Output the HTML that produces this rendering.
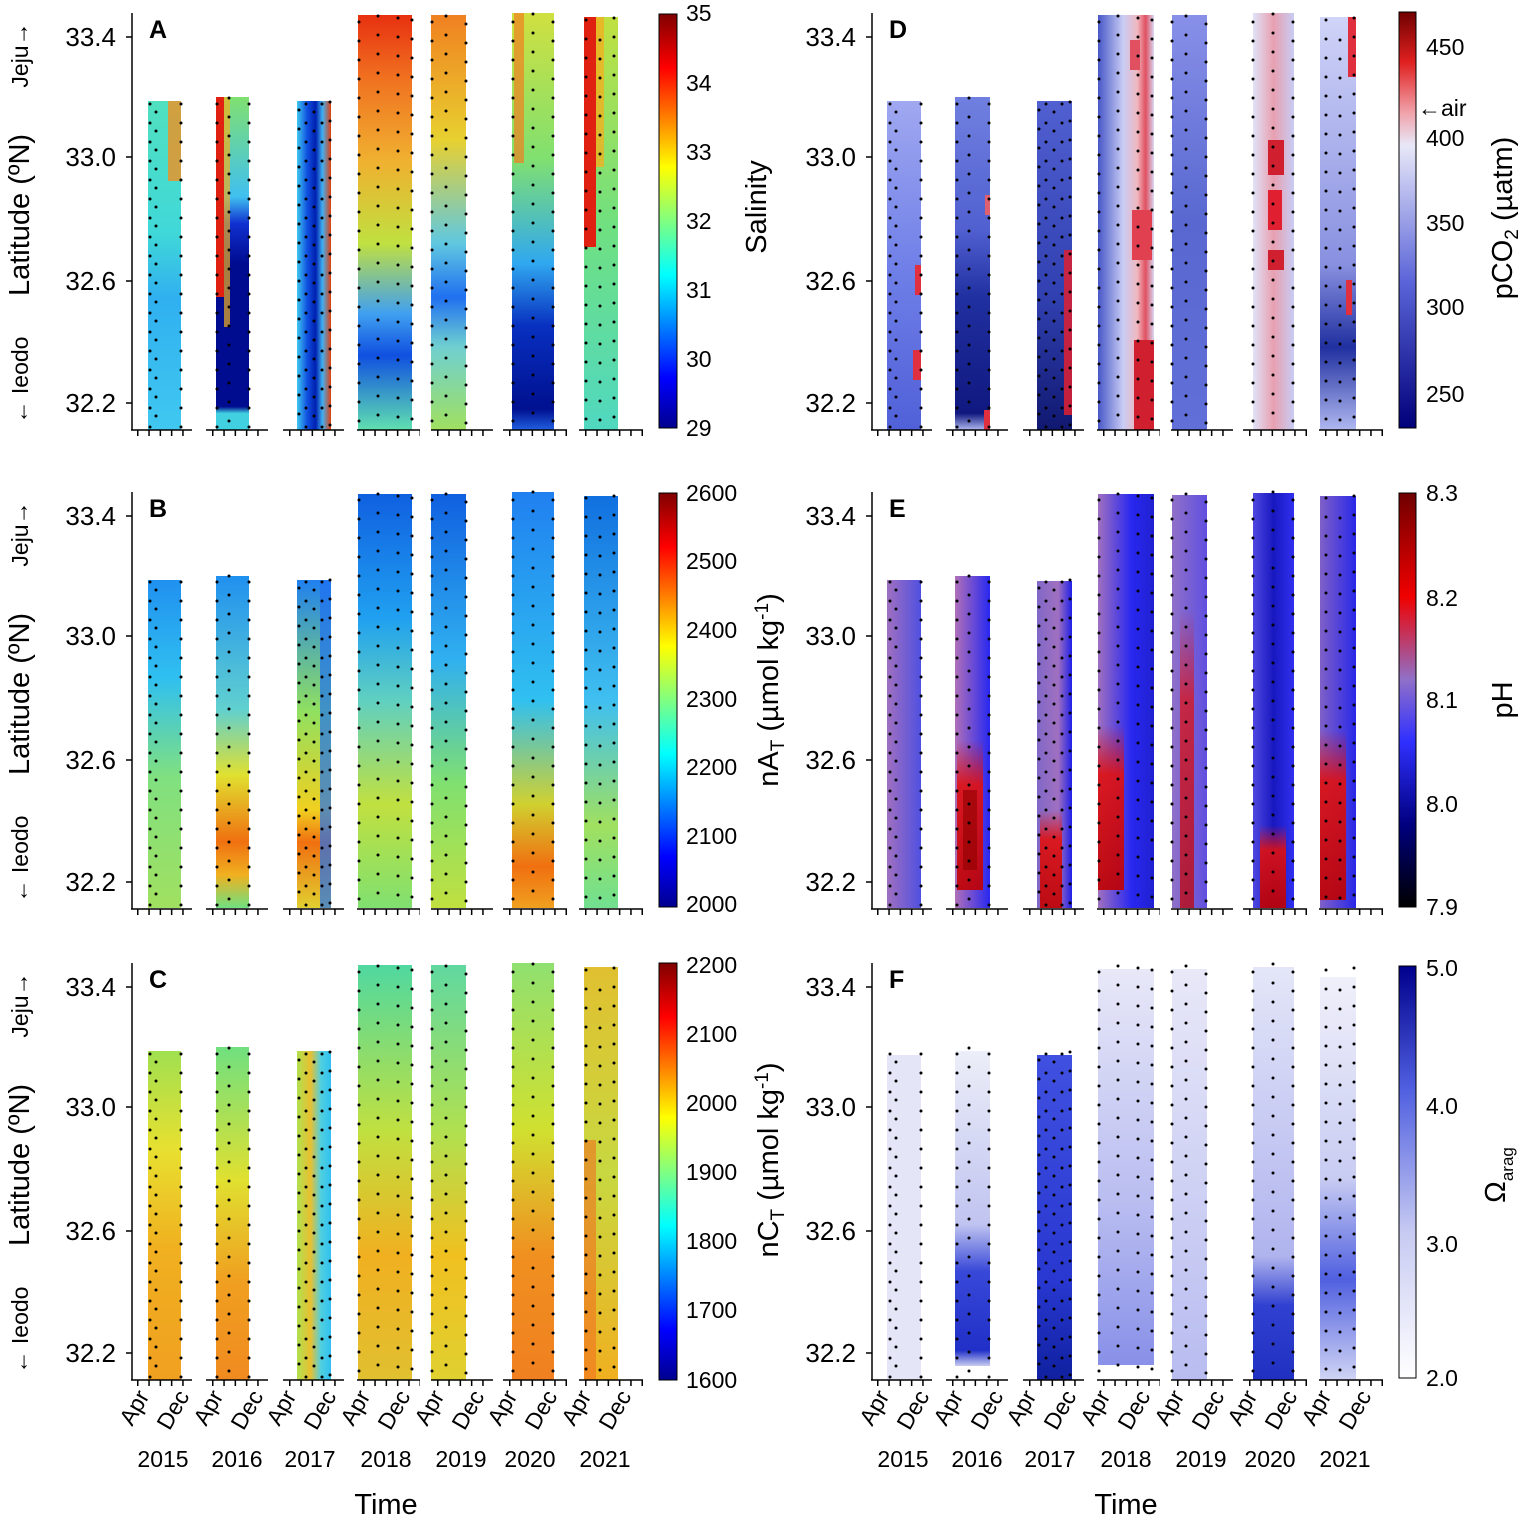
<!DOCTYPE html>
<html><head><meta charset="utf-8"><style>
html,body{margin:0;padding:0;background:#fff}
svg{display:block}
text{font-family:"Liberation Sans",Arial,sans-serif;fill:#000}
.t{font-size:23px}
.y{font-size:26px}
.l{font-size:29px}
.b{font-size:25px;font-weight:bold}
.d{stroke:#000;stroke-width:3;stroke-dasharray:0 19;stroke-linecap:round}
.ax{stroke:#000;stroke-width:1.5;fill:none}
.tk{stroke:#000;stroke-width:1.5;stroke-dasharray:1.5 9.5}
</style></head><body>
<svg width="1520" height="1515" viewBox="0 0 1520 1515" xmlns="http://www.w3.org/2000/svg">
<defs>
<linearGradient id="jet" x1="0" y1="1" x2="0" y2="0">
<stop offset="0" stop-color="#00008f"/><stop offset="0.12" stop-color="#0000ff"/><stop offset="0.37" stop-color="#00ffff"/><stop offset="0.5" stop-color="#80ff80"/><stop offset="0.63" stop-color="#ffff00"/><stop offset="0.87" stop-color="#ff0000"/><stop offset="1" stop-color="#800000"/></linearGradient>
<linearGradient id="bwr" x1="0" y1="1" x2="0" y2="0">
<stop offset="0" stop-color="#00007a"/><stop offset="0.35" stop-color="#5a64d8"/><stop offset="0.68" stop-color="#e8e8f8"/><stop offset="0.76" stop-color="#f0a0a8"/><stop offset="0.88" stop-color="#e02020"/><stop offset="1" stop-color="#700000"/></linearGradient>
<linearGradient id="ph" x1="0" y1="1" x2="0" y2="0">
<stop offset="0" stop-color="#000000"/><stop offset="0.2" stop-color="#000080"/><stop offset="0.4" stop-color="#3030ff"/><stop offset="0.55" stop-color="#9070c8"/><stop offset="0.75" stop-color="#f00000"/><stop offset="1" stop-color="#700000"/></linearGradient>
<linearGradient id="om" x1="0" y1="1" x2="0" y2="0">
<stop offset="0" stop-color="#ffffff"/><stop offset="0.35" stop-color="#c8cbf2"/><stop offset="0.7" stop-color="#5060e0"/><stop offset="1" stop-color="#00008c"/></linearGradient>
<linearGradient id="a1" x1="0" y1="0" x2="0" y2="1"><stop offset="0" stop-color="#50e0c0"/><stop offset="0.4" stop-color="#40d8d8"/><stop offset="0.6" stop-color="#30b0f0"/><stop offset="1" stop-color="#40c8f0"/></linearGradient>
<linearGradient id="a2" x1="0" y1="0" x2="0" y2="1"><stop offset="0" stop-color="#80e070"/><stop offset="0.3" stop-color="#40c0f0"/><stop offset="0.38" stop-color="#1030d0"/><stop offset="0.5" stop-color="#000c90"/><stop offset="0.93" stop-color="#000c90"/><stop offset="0.95" stop-color="#40d0e0"/><stop offset="1" stop-color="#40d0e0"/></linearGradient>
<linearGradient id="a3" x1="0" y1="0" x2="1" y2="0"><stop offset="0" stop-color="#40c8f0"/><stop offset="0.3" stop-color="#1050e0"/><stop offset="0.55" stop-color="#0020b0"/><stop offset="0.75" stop-color="#40b0f0"/><stop offset="1" stop-color="#e04010"/></linearGradient>
<linearGradient id="a4" x1="0" y1="0" x2="0" y2="1"><stop offset="0" stop-color="#e83010"/><stop offset="0.15" stop-color="#f07020"/><stop offset="0.35" stop-color="#f0b030"/><stop offset="0.55" stop-color="#c0e040"/><stop offset="0.72" stop-color="#40a0f0"/><stop offset="0.82" stop-color="#1050e0"/><stop offset="1" stop-color="#60e0b0"/></linearGradient>
<linearGradient id="a5" x1="0" y1="0" x2="0" y2="1"><stop offset="0" stop-color="#f08020"/><stop offset="0.3" stop-color="#e8d030"/><stop offset="0.55" stop-color="#60c8e0"/><stop offset="0.68" stop-color="#2070f0"/><stop offset="0.8" stop-color="#70d0d0"/><stop offset="1" stop-color="#a0e060"/></linearGradient>
<linearGradient id="a6" x1="0" y1="0" x2="0" y2="1"><stop offset="0" stop-color="#d0e040"/><stop offset="0.35" stop-color="#80e070"/><stop offset="0.6" stop-color="#30a8f0"/><stop offset="0.75" stop-color="#0830c0"/><stop offset="0.95" stop-color="#001090"/><stop offset="1" stop-color="#2060e0"/></linearGradient>
<linearGradient id="a7" x1="0" y1="0" x2="0" y2="1"><stop offset="0" stop-color="#c0e040"/><stop offset="0.5" stop-color="#70e080"/><stop offset="1" stop-color="#50d8c0"/></linearGradient>
<linearGradient id="b1" x1="0" y1="0" x2="0" y2="1"><stop offset="0" stop-color="#2090f0"/><stop offset="0.3" stop-color="#30c0f0"/><stop offset="0.6" stop-color="#80e080"/><stop offset="1" stop-color="#a0e060"/></linearGradient>
<linearGradient id="b2" x1="0" y1="0" x2="0" y2="1"><stop offset="0" stop-color="#2090f0"/><stop offset="0.4" stop-color="#60d0d0"/><stop offset="0.6" stop-color="#e0e030"/><stop offset="0.8" stop-color="#f07010"/><stop offset="0.9" stop-color="#f0b020"/><stop offset="1" stop-color="#70e080"/></linearGradient>
<linearGradient id="b3" x1="0" y1="0" x2="0" y2="1"><stop offset="0" stop-color="#2080f0"/><stop offset="0.4" stop-color="#90e060"/><stop offset="0.7" stop-color="#f0d020"/><stop offset="0.8" stop-color="#f07010"/><stop offset="1" stop-color="#e0d030"/></linearGradient>
<linearGradient id="b4" x1="0" y1="0" x2="0" y2="1"><stop offset="0" stop-color="#1060e0"/><stop offset="0.3" stop-color="#20a0f0"/><stop offset="0.5" stop-color="#60d0c0"/><stop offset="0.75" stop-color="#c0e040"/><stop offset="1" stop-color="#80e070"/></linearGradient>
<linearGradient id="b5" x1="0" y1="0" x2="0" y2="1"><stop offset="0" stop-color="#1060e0"/><stop offset="0.4" stop-color="#30b0f0"/><stop offset="0.7" stop-color="#80e070"/><stop offset="1" stop-color="#c0e040"/></linearGradient>
<linearGradient id="b6" x1="0" y1="0" x2="0" y2="1"><stop offset="0" stop-color="#2080f0"/><stop offset="0.5" stop-color="#30c0f0"/><stop offset="0.75" stop-color="#d0d030"/><stop offset="0.9" stop-color="#f07010"/><stop offset="1" stop-color="#f0a020"/></linearGradient>
<linearGradient id="b7" x1="0" y1="0" x2="0" y2="1"><stop offset="0" stop-color="#1070e0"/><stop offset="0.5" stop-color="#40c0f0"/><stop offset="0.8" stop-color="#a0e060"/><stop offset="1" stop-color="#70e090"/></linearGradient>
<linearGradient id="c1" x1="0" y1="0" x2="0" y2="1"><stop offset="0" stop-color="#a0e050"/><stop offset="0.3" stop-color="#e8e030"/><stop offset="0.6" stop-color="#f0b020"/><stop offset="1" stop-color="#f0a020"/></linearGradient>
<linearGradient id="c2" x1="0" y1="0" x2="0" y2="1"><stop offset="0" stop-color="#70e080"/><stop offset="0.4" stop-color="#e0e030"/><stop offset="0.7" stop-color="#f0a020"/><stop offset="1" stop-color="#f08a20"/></linearGradient>
<linearGradient id="c3" x1="0" y1="0" x2="1" y2="0"><stop offset="0" stop-color="#b0e050"/><stop offset="0.4" stop-color="#e8c030"/><stop offset="0.7" stop-color="#50d0e0"/><stop offset="1" stop-color="#30c0f0"/></linearGradient>
<linearGradient id="c4" x1="0" y1="0" x2="0" y2="1"><stop offset="0" stop-color="#50d8a0"/><stop offset="0.4" stop-color="#c0e040"/><stop offset="0.7" stop-color="#f0b020"/><stop offset="1" stop-color="#e0c030"/></linearGradient>
<linearGradient id="c5" x1="0" y1="0" x2="0" y2="1"><stop offset="0" stop-color="#60d8a0"/><stop offset="0.4" stop-color="#b0e050"/><stop offset="0.7" stop-color="#f0c020"/><stop offset="1" stop-color="#e0d030"/></linearGradient>
<linearGradient id="c6" x1="0" y1="0" x2="0" y2="1"><stop offset="0" stop-color="#90e070"/><stop offset="0.4" stop-color="#d0e030"/><stop offset="0.7" stop-color="#f09020"/><stop offset="1" stop-color="#f08020"/></linearGradient>
<linearGradient id="c7" x1="0" y1="0" x2="0" y2="1"><stop offset="0" stop-color="#e0c030"/><stop offset="0.5" stop-color="#c8d840"/><stop offset="1" stop-color="#f0b020"/></linearGradient>
<linearGradient id="d1" x1="0" y1="0" x2="0" y2="1"><stop offset="0" stop-color="#a0a8f0"/><stop offset="0.5" stop-color="#7080e8"/><stop offset="1" stop-color="#5060d8"/></linearGradient>
<linearGradient id="d2" x1="0" y1="0" x2="0" y2="1"><stop offset="0" stop-color="#7080e0"/><stop offset="0.4" stop-color="#5060d0"/><stop offset="0.6" stop-color="#2030a0"/><stop offset="0.95" stop-color="#101880"/><stop offset="1" stop-color="#b0b8f0"/></linearGradient>
<linearGradient id="d3" x1="0" y1="0" x2="0" y2="1"><stop offset="0" stop-color="#5060d0"/><stop offset="0.6" stop-color="#3040b0"/><stop offset="1" stop-color="#101870"/></linearGradient>
<linearGradient id="d4" x1="0" y1="0" x2="1" y2="0"><stop offset="0" stop-color="#4858c8"/><stop offset="0.45" stop-color="#c8ccf4"/><stop offset="0.7" stop-color="#f0b8c0"/><stop offset="0.85" stop-color="#e05060"/><stop offset="1" stop-color="#d8d8f4"/></linearGradient>
<linearGradient id="d5" x1="0" y1="0" x2="0" y2="1"><stop offset="0" stop-color="#8890e8"/><stop offset="0.5" stop-color="#5868d0"/><stop offset="1" stop-color="#6070d8"/></linearGradient>
<linearGradient id="d6" x1="0" y1="0" x2="1" y2="0"><stop offset="0" stop-color="#e0e2f8"/><stop offset="0.5" stop-color="#e8a0b0"/><stop offset="1" stop-color="#c8ccf4"/></linearGradient>
<linearGradient id="d7" x1="0" y1="0" x2="0" y2="1"><stop offset="0" stop-color="#d0d4f8"/><stop offset="0.6" stop-color="#8890e0"/><stop offset="0.8" stop-color="#2030a0"/><stop offset="1" stop-color="#b0b8f0"/></linearGradient>
<linearGradient id="e1" x1="0" y1="0" x2="1" y2="0"><stop offset="0" stop-color="#a070c0"/><stop offset="1" stop-color="#5050e0"/></linearGradient>
<linearGradient id="e2" x1="0" y1="0" x2="1" y2="0"><stop offset="0" stop-color="#b070b8"/><stop offset="1" stop-color="#2828f0"/></linearGradient>
<linearGradient id="e3" x1="0" y1="0" x2="1" y2="0"><stop offset="0" stop-color="#8068c8"/><stop offset="0.6" stop-color="#a070c0"/><stop offset="1" stop-color="#2020e8"/></linearGradient>
<linearGradient id="e4" x1="0" y1="0" x2="1" y2="0"><stop offset="0" stop-color="#a070c0"/><stop offset="0.6" stop-color="#2828f0"/><stop offset="1" stop-color="#2020d0"/></linearGradient>
<linearGradient id="e5" x1="0" y1="0" x2="1" y2="0"><stop offset="0" stop-color="#9070c8"/><stop offset="1" stop-color="#6050e0"/></linearGradient>
<linearGradient id="e6" x1="0" y1="0" x2="1" y2="0"><stop offset="0" stop-color="#5048e0"/><stop offset="0.5" stop-color="#1818c0"/><stop offset="1" stop-color="#3030f0"/></linearGradient>
<linearGradient id="e7" x1="0" y1="0" x2="1" y2="0"><stop offset="0" stop-color="#8060c8"/><stop offset="1" stop-color="#2828e8"/></linearGradient>
<linearGradient id="rv" x1="0" y1="0" x2="0" y2="1"><stop offset="0" stop-color="#e01010" stop-opacity="0"/><stop offset="0.3" stop-color="#e01010" stop-opacity="0.9"/><stop offset="1" stop-color="#c00000" stop-opacity="0.9"/></linearGradient>
<linearGradient id="f2" x1="0" y1="0" x2="0" y2="1"><stop offset="0" stop-color="#eceef8"/><stop offset="0.55" stop-color="#c0c4f0"/><stop offset="0.7" stop-color="#3848d8"/><stop offset="0.95" stop-color="#2030c8"/><stop offset="1" stop-color="#c8ccf0"/></linearGradient>
<linearGradient id="f3" x1="0" y1="0" x2="0" y2="1"><stop offset="0" stop-color="#4050e0"/><stop offset="0.7" stop-color="#2838d0"/><stop offset="1" stop-color="#1020a0"/></linearGradient>
<linearGradient id="f4" x1="0" y1="0" x2="0" y2="1"><stop offset="0" stop-color="#e8e8f8"/><stop offset="0.6" stop-color="#b8bcf0"/><stop offset="1" stop-color="#8890e8"/></linearGradient>
<linearGradient id="f5" x1="0" y1="0" x2="0" y2="1"><stop offset="0" stop-color="#e8e8f8"/><stop offset="1" stop-color="#b8bcf0"/></linearGradient>
<linearGradient id="f6" x1="0" y1="0" x2="0" y2="1"><stop offset="0" stop-color="#e4e6f8"/><stop offset="0.7" stop-color="#b0b4ee"/><stop offset="0.82" stop-color="#3040d0"/><stop offset="1" stop-color="#2030c0"/></linearGradient>
<linearGradient id="f7" x1="0" y1="0" x2="0" y2="1"><stop offset="0" stop-color="#f0f0fa"/><stop offset="0.5" stop-color="#c8ccf2"/><stop offset="0.75" stop-color="#5060e0"/><stop offset="1" stop-color="#d0d4f4"/></linearGradient>
</defs>

<g>
<rect x="148" y="101" width="33" height="329" fill="url(#a1)"/>
<rect x="168" y="101" width="13" height="80" fill="#f09020" opacity="0.8"/>
<rect x="216" y="97" width="33" height="333" fill="url(#a2)"/>
<rect x="216" y="97" width="8" height="200" fill="#e02010"/>
<rect x="224" y="97" width="6" height="230" fill="#f0b020" opacity="0.7"/>
<rect x="297" y="101" width="34" height="329" fill="url(#a3)"/>
<rect x="358" y="15" width="54" height="415" fill="url(#a4)"/>
<rect x="431" y="15" width="35" height="415" fill="url(#a5)"/>
<rect x="512" y="13" width="42" height="417" fill="url(#a6)"/>
<rect x="514" y="13" width="10" height="150" fill="#f08020" opacity="0.7"/>
<rect x="584" y="17" width="34" height="413" fill="url(#a7)"/>
<rect x="584" y="17" width="12" height="230" fill="#e02010"/>
<rect x="596" y="17" width="8" height="150" fill="#f0b020" opacity="0.8"/>
</g>
<g>
<rect x="148" y="580" width="33" height="328" fill="url(#b1)"/>
<rect x="216" y="576" width="33" height="332" fill="url(#b2)"/>
<rect x="297" y="580" width="34" height="328" fill="url(#b3)"/>
<rect x="320" y="580" width="11" height="328" fill="#2070f0" opacity="0.7"/>
<rect x="358" y="494" width="54" height="414" fill="url(#b4)"/>
<rect x="431" y="494" width="35" height="414" fill="url(#b5)"/>
<rect x="512" y="492" width="42" height="416" fill="url(#b6)"/>
<rect x="584" y="496" width="34" height="412" fill="url(#b7)"/>
</g>
<g>
<rect x="148" y="1051" width="33" height="329" fill="url(#c1)"/>
<rect x="216" y="1047" width="33" height="333" fill="url(#c2)"/>
<rect x="297" y="1051" width="34" height="329" fill="url(#c3)"/>
<rect x="358" y="965" width="54" height="415" fill="url(#c4)"/>
<rect x="431" y="965" width="35" height="415" fill="url(#c5)"/>
<rect x="512" y="963" width="42" height="417" fill="url(#c6)"/>
<rect x="584" y="967" width="34" height="413" fill="url(#c7)"/>
<rect x="584" y="1140" width="12" height="240" fill="#f07020" opacity="0.6"/>
</g>

<g>
<rect x="887" y="101" width="34" height="329" fill="url(#d1)"/>
<rect x="915" y="265" width="6" height="30" fill="#e03040"/><rect x="913" y="350" width="8" height="30" fill="#e03040"/>
<rect x="955" y="97" width="35" height="333" fill="url(#d2)"/>
<rect x="985" y="195" width="5" height="20" fill="#e06070"/><rect x="984" y="410" width="6" height="20" fill="#e03040"/>
<rect x="1037" y="101" width="35" height="329" fill="url(#d3)"/>
<rect x="1064" y="250" width="8" height="165" fill="#e02030" opacity="0.85"/>
<rect x="1098" y="15" width="56" height="415" fill="url(#d4)"/>
<rect x="1130" y="40" width="10" height="30" fill="#e05060"/><rect x="1132" y="210" width="20" height="50" fill="#e04050"/><rect x="1134" y="340" width="20" height="90" fill="#d02030"/>
<rect x="1172" y="15" width="35" height="415" fill="url(#d5)"/>
<rect x="1253" y="13" width="41" height="417" fill="url(#d6)"/>
<rect x="1268" y="140" width="16" height="35" fill="#d02030"/><rect x="1268" y="190" width="14" height="40" fill="#e02030"/><rect x="1268" y="250" width="16" height="20" fill="#d02030"/>
<rect x="1320" y="17" width="36" height="413" fill="url(#d7)"/>
<rect x="1348" y="17" width="8" height="60" fill="#e03040"/><rect x="1346" y="280" width="6" height="35" fill="#e03040"/>
</g>
<g>
<rect x="887" y="580" width="34" height="328" fill="url(#e1)"/>
<rect x="955" y="576" width="35" height="332" fill="url(#e2)"/>
<rect x="957" y="740" width="26" height="150" fill="url(#rv)"/>
<rect x="963" y="790" width="14" height="80" fill="#900000" opacity="0.6"/>
<rect x="1037" y="581" width="35" height="327" fill="url(#e3)"/>
<rect x="1040" y="810" width="22" height="98" fill="url(#rv)"/>
<rect x="1098" y="494" width="56" height="414" fill="url(#e4)"/>
<rect x="1098" y="725" width="26" height="165" fill="url(#rv)"/>
<rect x="1172" y="495" width="35" height="413" fill="url(#e5)"/>
<rect x="1180" y="610" width="14" height="298" fill="url(#rv)" opacity="0.8"/>
<rect x="1253" y="493" width="41" height="415" fill="url(#e6)"/>
<rect x="1260" y="825" width="26" height="83" fill="url(#rv)"/>
<rect x="1320" y="496" width="36" height="412" fill="url(#e7)"/>
<rect x="1320" y="730" width="26" height="170" fill="url(#rv)"/>
</g>
<g>
<rect x="887" y="1055" width="34" height="325" fill="#e4e6f8"/>
<rect x="955" y="1051" width="35" height="315" fill="url(#f2)"/>
<rect x="1037" y="1055" width="35" height="325" fill="url(#f3)"/>
<rect x="1098" y="969" width="56" height="396" fill="url(#f4)"/>
<rect x="1172" y="969" width="35" height="411" fill="url(#f5)"/>
<rect x="1253" y="967" width="41" height="413" fill="url(#f6)"/>
<rect x="1320" y="977" width="36" height="403" fill="url(#f7)"/>
</g>

<g>
<g id="dotsL">
<line class="d" x1="150" y1="104" x2="150" y2="430"/><line class="d" x1="156" y1="112" x2="156" y2="430"/><line class="d" x1="181" y1="104" x2="181" y2="430"/>
<line class="d" x1="217" y1="104" x2="217" y2="430"/><line class="d" x1="229" y1="98" x2="229" y2="430"/><line class="d" x1="249" y1="104" x2="249" y2="430"/>
<line class="d" x1="299" y1="110" x2="299" y2="430"/><line class="d" x1="306" y1="104" x2="306" y2="430"/><line class="d" x1="314" y1="112" x2="314" y2="430"/><line class="d" x1="322" y1="104" x2="322" y2="430"/><line class="d" x1="330" y1="102" x2="330" y2="430"/>
<line class="d" x1="359" y1="22" x2="359" y2="430"/><line class="d" x1="378" y1="16" x2="378" y2="430"/><line class="d" x1="398" y1="18" x2="398" y2="430"/><line class="d" x1="412" y1="20" x2="412" y2="430"/>
<line class="d" x1="432" y1="22" x2="432" y2="430"/><line class="d" x1="446" y1="16" x2="446" y2="430"/><line class="d" x1="466" y1="24" x2="466" y2="430"/>
<line class="d" x1="513" y1="22" x2="513" y2="430"/><line class="d" x1="533" y1="14" x2="533" y2="430"/><line class="d" x1="553" y1="22" x2="553" y2="430"/>
<line class="d" x1="586" y1="20" x2="586" y2="430"/><line class="d" x1="600" y1="40" x2="600" y2="430"/><line class="d" x1="614" y1="18" x2="614" y2="430"/>
</g>
<use href="#dotsL" transform="translate(0,478)"/>
<use href="#dotsL" transform="translate(0,950)"/>
<use href="#dotsL" transform="translate(740,0)"/>
<use href="#dotsL" transform="translate(740,478)"/>
<use href="#dotsL" transform="translate(740,950)"/>
</g>

<g id="axL">
<path class="ax" d="M132,13 V430"/>
<path class="ax" d="M126,37 H132 M126,157 H132 M126,281 H132 M126,403 H132"/>
<path class="ax" d="M131,430 H192 M206,430 H268 M283,430 H344 M357,430 H420 M431,430 H493 M503,430 H567 M579,430 H643"/>
<path class="tk" d="M137,433 H192 M212,433 H268 M289,433 H344 M363,433 H420 M437,433 H493 M509,433 H567 M585,433 H643" style="stroke-width:6;stroke-dasharray:1.5 9.8"/>
<text class="y" x="116" y="46" text-anchor="end">33.4</text>
<text class="y" x="116" y="166" text-anchor="end">33.0</text>
<text class="y" x="116" y="290" text-anchor="end">32.6</text>
<text class="y" x="116" y="412" text-anchor="end">32.2</text>
<text class="l" transform="translate(29,215) rotate(-90)" text-anchor="middle">Latitude (ºN)</text>
<text transform="translate(28,55) rotate(-90)" text-anchor="middle" style="font-size:23px">Jeju→</text>
<text transform="translate(28,380) rotate(-90)" text-anchor="middle" style="font-size:23px">← Ieodo</text>
</g>
<use href="#axL" transform="translate(0,479)"/>
<use href="#axL" transform="translate(0,950)"/>
<use href="#axL" transform="translate(740,0)"/>
<use href="#axL" transform="translate(740,479)"/>
<use href="#axL" transform="translate(740,950)"/>
<rect x="740" y="0" width="55" height="1400" fill="#fff"/>
<text class="b" x="149" y="38">A</text>
<text class="b" x="149" y="517">B</text>
<text class="b" x="149" y="988">C</text>
<text class="b" x="889" y="38">D</text>
<text class="b" x="889" y="517">E</text>
<text class="b" x="889" y="988">F</text>

<g id="xl" class="t">
<text transform="translate(150,1396) rotate(-60)" text-anchor="end">Apr</text>
<text transform="translate(190,1396) rotate(-60)" text-anchor="end">Dec</text>
<text transform="translate(224,1396) rotate(-60)" text-anchor="end">Apr</text>
<text transform="translate(264,1396) rotate(-60)" text-anchor="end">Dec</text>
<text transform="translate(297,1396) rotate(-60)" text-anchor="end">Apr</text>
<text transform="translate(337,1396) rotate(-60)" text-anchor="end">Dec</text>
<text transform="translate(371,1396) rotate(-60)" text-anchor="end">Apr</text>
<text transform="translate(411,1396) rotate(-60)" text-anchor="end">Dec</text>
<text transform="translate(445,1396) rotate(-60)" text-anchor="end">Apr</text>
<text transform="translate(485,1396) rotate(-60)" text-anchor="end">Dec</text>
<text transform="translate(518,1396) rotate(-60)" text-anchor="end">Apr</text>
<text transform="translate(558,1396) rotate(-60)" text-anchor="end">Dec</text>
<text transform="translate(592,1396) rotate(-60)" text-anchor="end">Apr</text>
<text transform="translate(632,1396) rotate(-60)" text-anchor="end">Dec</text>
<text x="163" y="1467" text-anchor="middle">2015</text>
<text x="237" y="1467" text-anchor="middle">2016</text>
<text x="310" y="1467" text-anchor="middle">2017</text>
<text x="386" y="1467" text-anchor="middle">2018</text>
<text x="461" y="1467" text-anchor="middle">2019</text>
<text x="530" y="1467" text-anchor="middle">2020</text>
<text x="605" y="1467" text-anchor="middle">2021</text>
<text class="l" x="386" y="1514" text-anchor="middle">Time</text>
</g>
<use href="#xl" transform="translate(740,0)"/>

<rect x="659" y="14" width="18" height="414" fill="url(#jet)" stroke="#000" stroke-width="1"/>
<rect x="659" y="493" width="18" height="414" fill="url(#jet)" stroke="#000" stroke-width="1"/>
<rect x="659" y="963" width="18" height="417" fill="url(#jet)" stroke="#000" stroke-width="1"/>
<rect x="1399" y="12" width="17" height="416" fill="url(#bwr)" stroke="#000" stroke-width="1"/>
<rect x="1399" y="493" width="17" height="414" fill="url(#ph)" stroke="#000" stroke-width="1"/>
<rect x="1399" y="966" width="17" height="412" fill="url(#om)" stroke="#000" stroke-width="1"/>

<g class="t">
<text x="686" y="21">35</text><text x="686" y="91">34</text><text x="686" y="160">33</text><text x="686" y="229">32</text><text x="686" y="298">31</text><text x="686" y="367">30</text><text x="686" y="436">29</text>
<text x="686" y="501">2600</text><text x="686" y="569">2500</text><text x="686" y="638">2400</text><text x="686" y="707">2300</text><text x="686" y="775">2200</text><text x="686" y="844">2100</text><text x="686" y="912">2000</text>
<text x="686" y="973">2200</text><text x="686" y="1042">2100</text><text x="686" y="1111">2000</text><text x="686" y="1180">1900</text><text x="686" y="1249">1800</text><text x="686" y="1318">1700</text><text x="686" y="1388">1600</text>
<text x="1426" y="55">450</text><text x="1426" y="146">400</text><text x="1426" y="231">350</text><text x="1426" y="315">300</text><text x="1426" y="402">250</text>
<text x="1418" y="116">←air</text>
<text x="1426" y="501">8.3</text><text x="1426" y="606">8.2</text><text x="1426" y="708">8.1</text><text x="1426" y="812">8.0</text><text x="1426" y="915">7.9</text>
<text x="1426" y="976">5.0</text><text x="1426" y="1114">4.0</text><text x="1426" y="1252">3.0</text><text x="1426" y="1386">2.0</text>
</g>
<text class="l" transform="translate(766,207) rotate(-90)" text-anchor="middle">Salinity</text>
<text class="l" transform="translate(778,690) rotate(-90)" text-anchor="middle">nA<tspan font-size="19" dy="6">T</tspan><tspan dy="-6"> (µmol kg</tspan><tspan font-size="19" dy="-10">-1</tspan><tspan dy="10">)</tspan></text>
<text class="l" transform="translate(778,1160) rotate(-90)" text-anchor="middle">nC<tspan font-size="19" dy="6">T</tspan><tspan dy="-6"> (µmol kg</tspan><tspan font-size="19" dy="-10">-1</tspan><tspan dy="10">)</tspan></text>
<text class="l" transform="translate(1512,218) rotate(-90)" text-anchor="middle">pCO<tspan font-size="19" dy="6">2</tspan><tspan dy="-6"> (µatm)</tspan></text>
<text class="l" transform="translate(1512,700) rotate(-90)" text-anchor="middle">pH</text>
<text class="l" transform="translate(1505,1175) rotate(-90)" text-anchor="middle">Ω<tspan font-size="17" dy="8">arag</tspan></text>
</svg>
</body></html>
